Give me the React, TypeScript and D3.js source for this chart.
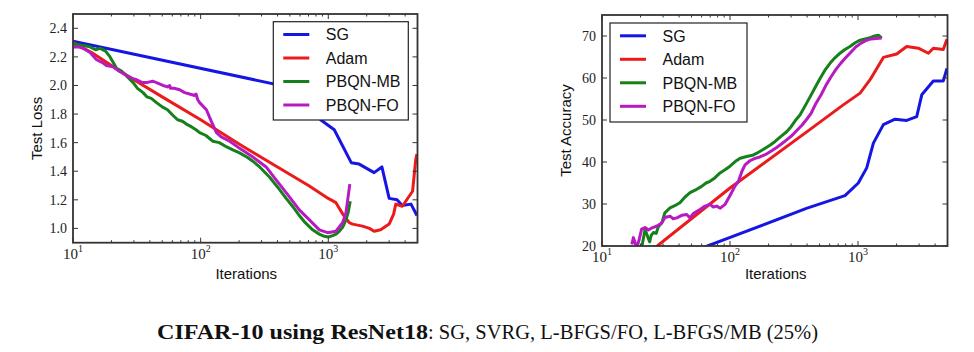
import React from 'react';
import * as d3 from 'd3';

type Pt = [number, number];

const seriesNames = ['SG', 'Adam', 'PBQN-MB', 'PBQN-FO'];
const seriesColors = ['#1616e4', '#ec1b1b', '#16801a', '#b81ac2'];

const xDecades = [10, 100, 1000];
const lossTicks = [1.0, 1.2, 1.4, 1.6, 1.8, 2.0, 2.2, 2.4];
const accTicks = [20, 30, 40, 50, 60, 70];

// test loss, [iterations, value]
const lossSG: Pt[] = [
  [10, 2.31], [780, 1.95], [870, 1.76], [1114, 1.69], [1513, 1.46], [1746, 1.45],
  [2286, 1.39], [2630, 1.43], [2999, 1.21], [3459, 1.2], [3787, 1.16], [4448, 1.17], [4950, 1.09],
];
const lossAdam: Pt[] = [
  [10, 2.3], [14, 2.23], [20, 2.14], [30, 2.04], [50, 1.92], [100, 1.76], [200, 1.59],
  [400, 1.43], [700, 1.3], [1000, 1.21], [1148, 1.18], [1300, 1.1], [1459, 1.04], [1550, 1.03],
  [1854, 1.016], [2100, 1.0], [2286, 0.98], [2570, 0.99], [2999, 1.03], [3250, 1.1], [3380, 1.17],
  [3800, 1.155], [4575, 1.26], [4840, 1.48], [4950, 1.52],
];
const lossMB: Pt[] = [
  [10, 2.29], [12, 2.28], [13.6, 2.27], [15, 2.25], [16.3, 2.26], [18, 2.24], [19.5, 2.2],
  [21, 2.15], [21.9, 2.12], [24, 2.1], [26, 2.07], [29.6, 2.02], [32, 1.98], [35.4, 1.95],
  [38, 1.92], [41, 1.91], [45.1, 1.88], [50, 1.85], [55, 1.83], [60.8, 1.79], [66, 1.76],
  [72, 1.75], [77.3, 1.73], [85, 1.71], [92, 1.69], [98.2, 1.67], [110, 1.65], [124.8, 1.61],
  [140, 1.6], [160, 1.57], [178.8, 1.55], [200, 1.53], [230, 1.5], [256.5, 1.47], [290, 1.43],
  [346, 1.36], [400, 1.29], [467.6, 1.21], [530, 1.15], [593, 1.09], [660, 1.04], [754, 0.99],
  [850, 0.96], [931, 0.945], [1000, 0.94], [1082, 0.95], [1150, 0.96], [1219, 0.98], [1300, 1.01],
  [1375, 1.06], [1430, 1.11], [1486, 1.19],
];
const lossFO: Pt[] = [
  [10, 2.27], [11, 2.27], [12, 2.26], [13.6, 2.23], [15.3, 2.18], [17, 2.16], [18.3, 2.14],
  [20.6, 2.13], [23, 2.1], [26.3, 2.07], [29, 2.05], [31.5, 2.04], [35, 2.02], [37.7, 2.02],
  [42, 2.03], [45.1, 2.02], [50.7, 2.0], [55, 1.99], [57.2, 2.0], [58, 1.98], [62, 1.98],
  [68.5, 1.97], [75, 1.95], [82, 1.94], [89.8, 1.93], [92, 1.94], [95, 1.9], [98.2, 1.88],
  [111, 1.83], [121, 1.75], [133, 1.67], [145, 1.64], [169, 1.61], [202, 1.56], [256.5, 1.5],
  [326, 1.43], [390, 1.34], [467.6, 1.25], [593, 1.13], [711, 1.06], [851, 0.99], [988, 0.97],
  [1148, 0.98], [1295, 1.04], [1375, 1.11], [1475, 1.31],
];

// test accuracy, [iterations, value]
const accSG: Pt[] = [
  [10, 10.5], [400, 29.0], [791, 32.0], [1005, 35.0], [1169, 38.6], [1318, 44.5], [1578, 48.9],
  [1946, 50.2], [2400, 49.9], [2874, 50.8], [3147, 56.0], [3875, 59.3], [4637, 59.3], [4950, 62.3],
];
const accAdam: Pt[] = [
  [10, 10.5], [27, 20], [100, 33.8], [420, 47.7], [767, 53.6], [1038, 56.4], [1242, 59.6],
  [1578, 64.9], [2004, 65.7], [2400, 67.5], [2958, 67.1], [3547, 65.9], [3875, 67.1],
  [4637, 66.8], [4950, 69.2],
];
const accMB: Pt[] = [
  [20.4, 19.5], [21.7, 24], [23, 21.8], [23.6, 21.0], [24.2, 22.5], [25.2, 23.2], [26.5, 23.0],
  [27.5, 24.5], [29.3, 25.5], [31, 27.9], [34, 29.1], [37, 29.6], [40.6, 30.3], [44, 31.5],
  [48.7, 32.7], [54.9, 33.5], [60, 34.2], [65, 35.0], [69.8, 35.4], [76, 36.2], [83.6, 37.4],
  [92, 38.2], [100, 39.0], [112, 40.3], [120, 40.9], [135, 41.3], [150, 41.6], [162, 42.1],
  [180, 42.9], [205, 44.0], [225, 44.9], [250, 46.1], [277, 47.2], [300, 48.4], [330, 50.2],
  [352, 51.2], [390, 53.6], [422, 55.5], [460, 57.6], [505, 59.9], [550, 61.8], [604, 63.5],
  [660, 64.8], [723, 65.9], [790, 66.8], [866, 67.5], [950, 68.4], [1038, 69.0], [1140, 69.3],
  [1242, 69.6], [1350, 70.0], [1443, 70.2], [1531, 69.5],
];
const accFO: Pt[] = [
  [17.1, 20.4], [17.6, 22], [18.7, 19.5], [19.5, 21.5], [20.4, 24], [21.7, 24.4], [23, 23.8],
  [24.5, 24.3], [26.7, 24.7], [29.3, 25.5], [31, 26.8], [34, 27.1], [36, 26.5], [38.4, 26.7],
  [42, 27.3], [45.9, 27.5], [48.7, 26.7], [52, 27.8], [58.3, 28.7], [63, 29.4], [69.8, 29.9],
  [74, 29.3], [78.7, 29.5], [84, 29.0], [91.4, 29.9], [100, 32.0], [108, 34.0], [116, 35.3],
  [124, 37.8], [131, 39.3], [143, 40.3], [155, 40.8], [171, 41.2], [190, 41.8], [210, 42.6],
  [230, 43.4], [255, 44.4], [280, 45.4], [305, 46.3], [335, 47.6], [366, 48.8], [400, 50.3],
  [430, 51.6], [470, 54.0], [515, 56.0], [560, 58.2], [616, 60.3], [670, 62.0], [737, 63.6],
  [800, 64.8], [882, 66.2], [960, 67.4], [1056, 68.3], [1150, 68.9], [1266, 69.3], [1400, 69.4],
  [1531, 69.5],
];

const serif = '"Liberation Serif", "DejaVu Serif", serif';
const sans = '"Liberation Sans", Arial, sans-serif';
const frameColor = '#333';

type PanelProps = {
  id: string;
  box: { l: number; r: number; t: number; b: number };
  yDomain: [number, number];
  yTicks: number[];
  fmt: (v: number) => string;
  yLabel: string;
  yLabelX: number;
  series: Pt[][];
  legend: { x: number; y: number; w: number; h: number };
};

function Panel({ id, box, yDomain, yTicks, fmt, yLabel, yLabelX, series, legend }: PanelProps) {
  const x = d3.scaleLog().domain([10, 5000]).range([box.l, box.r]);
  const y = d3.scaleLinear().domain(yDomain).range([box.b, box.t]);
  const line = d3.line<Pt>().x(d => x(d[0])).y(d => y(d[1]));
  const minor = x.ticks().filter(t => !xDecades.includes(t) && t < 5000);
  const rowGap = 23.5;

  return (
    <g>
      <defs>
        <clipPath id={id}>
          <rect x={box.l} y={box.t} width={box.r - box.l} height={box.b - box.t} />
        </clipPath>
      </defs>

      <g clipPath={`url(#${id})`}>
        {series.map((s, i) => (
          <path key={i} d={line(s) || ''} fill="none" stroke={seriesColors[i]} strokeWidth={3}
            strokeLinejoin="round" strokeLinecap="butt" />
        ))}
      </g>

      {/* ticks, inside on all four sides */}
      <g stroke={frameColor} strokeWidth={1}>
        {minor.map(t => (
          <g key={'m' + t}>
            <line x1={x(t)} x2={x(t)} y1={box.b} y2={box.b - 2.5} />
            <line x1={x(t)} x2={x(t)} y1={box.t} y2={box.t + 2.5} />
          </g>
        ))}
        {xDecades.map(t => (
          <g key={'M' + t}>
            <line x1={x(t)} x2={x(t)} y1={box.b} y2={box.b - 5} />
            <line x1={x(t)} x2={x(t)} y1={box.t} y2={box.t + 5} />
          </g>
        ))}
        {yTicks.map(t => (
          <g key={'y' + t}>
            <line x1={box.l} x2={box.l + 5} y1={y(t)} y2={y(t)} />
            <line x1={box.r} x2={box.r - 5} y1={y(t)} y2={y(t)} />
          </g>
        ))}
      </g>

      <rect x={box.l} y={box.t} width={box.r - box.l} height={box.b - box.t}
        fill="none" stroke={frameColor} strokeWidth={1.8} />

      <g fontFamily={serif} fontSize={14} fill="#222">
        {yTicks.map(t => (
          <text key={t} x={box.l - 6} y={y(t) + 5} textAnchor="end">{fmt(t)}</text>
        ))}
        {xDecades.map(t => (
          <text key={t} x={x(t)} y={box.b + 16} textAnchor="middle" fontSize={15}>
            10<tspan dy={-7} fontSize={10}>{Math.round(Math.log10(t))}</tspan>
          </text>
        ))}
      </g>

      <g fontFamily={sans} fontSize={15} fill="#111">
        <text x={(box.l + box.r) / 2 + 1} y={279} textAnchor="middle">Iterations</text>
        <text transform={`translate(${yLabelX},${(box.t + box.b) / 2}) rotate(-90)`} textAnchor="middle">
          {yLabel}
        </text>
      </g>

      <g>
        <rect x={legend.x} y={legend.y} width={legend.w} height={legend.h}
          fill="#fff" stroke="#222" strokeWidth={1.2} />
        {seriesNames.map((name, i) => {
          const ry = legend.y + 12.8 + i * rowGap;
          return (
            <g key={name}>
              <line x1={legend.x + 10} x2={legend.x + 36} y1={ry} y2={ry}
                stroke={seriesColors[i]} strokeWidth={3} />
              <text x={legend.x + 52.5} y={ry + 5.8} fontFamily={sans} fontSize={16} fill="#111">{name}</text>
            </g>
          );
        })}
      </g>
    </g>
  );
}

export default function App() {
  return (
    <svg width={974} height={352} style={{ position: 'absolute', left: 0, top: 0, background: '#fff' }}>
      <Panel
        id="clipLoss"
        box={{ l: 73, r: 417.5, t: 14, b: 242.7 }}
        yDomain={[0.9, 2.5]}
        yTicks={lossTicks}
        fmt={d3.format('.1f')}
        yLabel="Test Loss"
        yLabelX={41.5}
        series={[lossSG, lossAdam, lossMB, lossFO]}
        legend={{ x: 273.3, y: 21.7, w: 135, h: 98.3 }}
      />
      <Panel
        id="clipAcc"
        box={{ l: 602, r: 947.5, t: 15, b: 246 }}
        yDomain={[20, 75]}
        yTicks={accTicks}
        fmt={d3.format('d')}
        yLabel="Test Accuracy"
        yLabelX={571}
        series={[accSG, accAdam, accMB, accFO]}
        legend={{ x: 610, y: 23, w: 137, h: 99 }}
      />
      <text x={157} y={339} fontFamily={serif} fontSize={21} fontWeight="bold" fill="#111"
        textLength={271} lengthAdjust="spacingAndGlyphs">CIFAR-10 using ResNet18</text>
      <text x={428} y={339} fontFamily={serif} fontSize={21} fill="#111"
        textLength={390} lengthAdjust="spacingAndGlyphs">: SG, SVRG, L-BFGS/FO, L-BFGS/MB (25%)</text>
    </svg>
  );
}
